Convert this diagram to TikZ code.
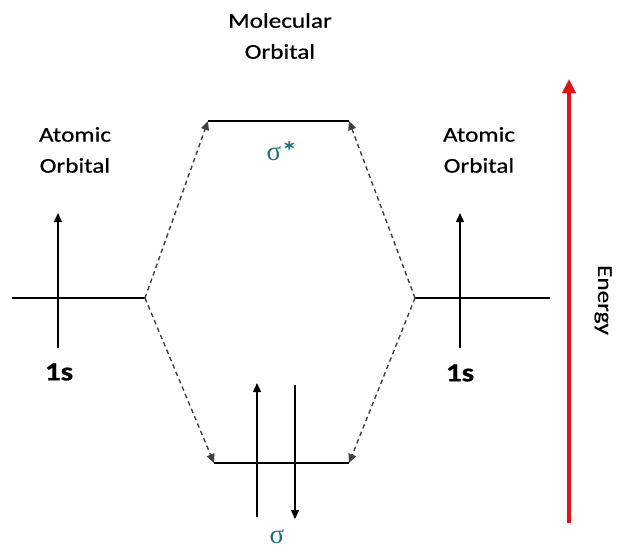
\documentclass[tikz,border=0pt]{standalone}
\usepackage{fontspec}
\setmainfont{Carlito}[FakeStretch=1.2,FakeBold=0.6]
\newfontfamily\greekfont{Liberation Serif}
\usetikzlibrary{arrows.meta}
\definecolor{teal1}{RGB}{31,110,128}
\definecolor{enred}{RGB}{225,20,20}
\tikzset{
  lvl/.style={line width=1.4pt, black},
  spin/.style={line width=1.4pt, black, -{Triangle[length=9pt,width=8pt]}},
  corr/.style={line width=1.4pt, black!75, dash pattern=on 4.5pt off 3.5pt, -{Triangle[length=9pt,width=8pt]}},
  lbl/.style={font=\fontsize{21}{25}\selectfont, align=center, inner sep=0pt},
  onesl/.style={font=\fontsize{26}{30}\selectfont\bfseries, inner sep=0pt},
  sig/.style={font=\fontsize{27}{30}\selectfont, text=teal1, inner sep=0pt}
}
\begin{document}
\begin{tikzpicture}[x=1pt,y=-1pt]
\useasboundingbox (0,0) rectangle (618,552);
% left atomic orbital
\coordinate (la) at (12,298);
\coordinate (lb) at (145,298);
\coordinate (lsb) at (58,348);
\coordinate (lst) at (58,213);
\draw[lvl] (la) -- (lb);
\draw[spin] (lsb) -- (lst);
% right atomic orbital
\coordinate (ra) at (415,298);
\coordinate (rb) at (550,298);
\coordinate (rsb) at (460,348);
\coordinate (rst) at (460,213);
\draw[lvl] (ra) -- (rb);
\draw[spin] (rsb) -- (rst);
% sigma*
\coordinate (sal) at (208,121);
\coordinate (sar) at (349,121);
\draw[lvl] (sal) -- (sar);
% sigma
\coordinate (sbl) at (214,463);
\coordinate (sbr) at (349,463);
\draw[lvl] (sbl) -- (sbr);
\coordinate (u1) at (257,517);
\coordinate (u2) at (257,383);
\coordinate (d1) at (295,385);
\coordinate (d2) at (295,519);
\draw[spin] (u1) -- (u2);
\draw[spin] (d1) -- (d2);
% correlation lines
\draw[corr] (lb) -- (sal);
\draw[corr] (lb) -- (sbl);
\draw[corr] (ra) -- (sar);
\draw[corr] (ra) -- (sbr);
% energy arrow
\coordinate (e1) at (569,523);
\coordinate (e2) at (569,79);
\draw[enred, line width=4.5pt, -{Triangle[length=14pt,width=13pt]}] (e1) -- (e2);
% labels
\node[lbl] (mo) at (280,36) {Molecular\\[6pt]Orbital};
\node[lbl] (aol) at (75,150) {Atomic\\[6pt]Orbital};
\node[lbl] (aor) at (479,150) {Atomic\\[6pt]Orbital};
\node[onesl] (s1l) at (59,372) {1s};
\node[onesl] (s1r) at (460,373) {1s};
\node[sig] (sst) at (282,151) {{\greekfont σ}*};
\node[sig, anchor=base, text depth=0pt] (ss) at (277,543) {\greekfont σ};
\node[lbl, rotate=-90] (en) at (603,300) {Energy};
\end{tikzpicture}
\end{document}
